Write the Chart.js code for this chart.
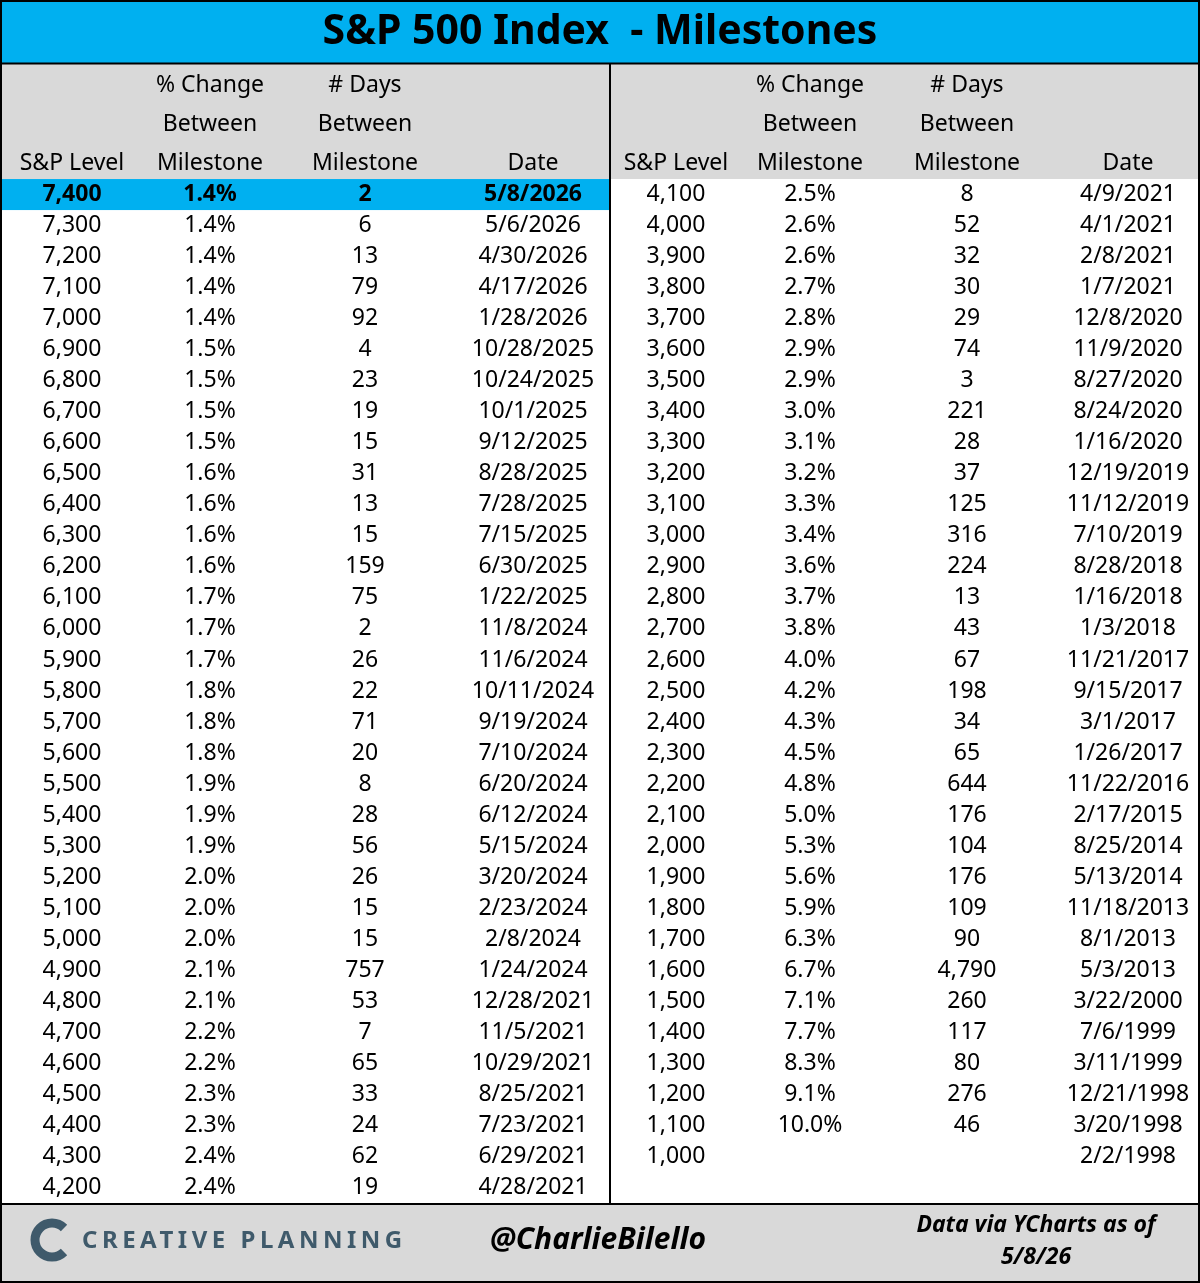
<!DOCTYPE html>
<html><head><meta charset="utf-8">
<script src="https://cdn.jsdelivr.net/npm/chart.js@4"></script>
<style>html,body{margin:0;padding:0;background:#fff}#wrap{width:1200px;height:1283px}</style>
</head><body><div id="wrap"><canvas id="c" width="1200" height="1283"></canvas></div>
<script>
var levelsL = ['7,400','7,300','7,200','7,100','7,000','6,900','6,800','6,700','6,600','6,500','6,400','6,300','6,200','6,100','6,000','5,900','5,800','5,700','5,600','5,500','5,400','5,300','5,200','5,100','5,000','4,900','4,800','4,700','4,600','4,500','4,400','4,300','4,200'];
var pctL = ['1.4%','1.4%','1.4%','1.4%','1.4%','1.5%','1.5%','1.5%','1.5%','1.6%','1.6%','1.6%','1.6%','1.7%','1.7%','1.7%','1.8%','1.8%','1.8%','1.9%','1.9%','1.9%','2.0%','2.0%','2.0%','2.1%','2.1%','2.2%','2.2%','2.3%','2.3%','2.4%','2.4%'];
var daysL = ['2','6','13','79','92','4','23','19','15','31','13','15','159','75','2','26','22','71','20','8','28','56','26','15','15','757','53','7','65','33','24','62','19'];
var datesL = ['5/8/2026','5/6/2026','4/30/2026','4/17/2026','1/28/2026','10/28/2025','10/24/2025','10/1/2025','9/12/2025','8/28/2025','7/28/2025','7/15/2025','6/30/2025','1/22/2025','11/8/2024','11/6/2024','10/11/2024','9/19/2024','7/10/2024','6/20/2024','6/12/2024','5/15/2024','3/20/2024','2/23/2024','2/8/2024','1/24/2024','12/28/2021','11/5/2021','10/29/2021','8/25/2021','7/23/2021','6/29/2021','4/28/2021'];
var levelsR = ['4,100','4,000','3,900','3,800','3,700','3,600','3,500','3,400','3,300','3,200','3,100','3,000','2,900','2,800','2,700','2,600','2,500','2,400','2,300','2,200','2,100','2,000','1,900','1,800','1,700','1,600','1,500','1,400','1,300','1,200','1,100','1,000'];
var pctR = ['2.5%','2.6%','2.6%','2.7%','2.8%','2.9%','2.9%','3.0%','3.1%','3.2%','3.3%','3.4%','3.6%','3.7%','3.8%','4.0%','4.2%','4.3%','4.5%','4.8%','5.0%','5.3%','5.6%','5.9%','6.3%','6.7%','7.1%','7.7%','8.3%','9.1%','10.0%',''];
var daysR = ['8','52','32','30','29','74','3','221','28','37','125','316','224','13','43','67','198','34','65','644','176','104','176','109','90','4,790','260','117','80','276','46',''];
var datesR = ['4/9/2021','4/1/2021','2/8/2021','1/7/2021','12/8/2020','11/9/2020','8/27/2020','8/24/2020','1/16/2020','12/19/2019','11/12/2019','7/10/2019','8/28/2018','1/16/2018','1/3/2018','11/21/2017','9/15/2017','3/1/2017','1/26/2017','11/22/2016','2/17/2015','8/25/2014','5/13/2014','11/18/2013','8/1/2013','5/3/2013','3/22/2000','7/6/1999','3/11/1999','12/21/1998','3/20/1998','2/2/1998'];
var colsL = [72, 210, 365, 533];
var colsR = [676, 810, 967, 1128];
var headers = [['S&P Level'], ['% Change','Between','Milestone'], ['# Days','Between','Milestone'], ['Date']];

var F = '"Noto Sans", "Open Sans", sans-serif';
var blue = '#00b0f0', grey = '#d9d9d9';

function pts(n, side) { var a = []; for (var i = 0; i < n; i++) a.push({ x: side, y: i }); return a; }

var tablePlugin = {
  id: 'table',
  beforeDatasetsDraw: function(chart) {
    var ctx = chart.ctx, ys = chart.scales.y;
    var rowH = ys.getPixelForValue(1) - ys.getPixelForValue(0);
    ctx.save();
    // title
    ctx.fillStyle = blue; ctx.fillRect(0, 0, 1200, 63);
    ctx.fillStyle = '#000'; ctx.font = 'bold 41px ' + F; ctx.textAlign = 'center'; ctx.textBaseline = 'middle';
    ctx.fillText('S&P 500 Index  - Milestones', 600, 32);
    // header
    ctx.fillStyle = grey; ctx.fillRect(0, 63, 1200, 116);
    // highlight row
    var y0 = ys.getPixelForValue(0);
    ctx.fillStyle = blue; ctx.fillRect(0, y0 - rowH / 2, 610, rowH);
    // footer
    ctx.fillStyle = grey; ctx.fillRect(0, 1204, 1200, 79);
    ctx.font = '23px ' + F; ctx.fillStyle = '#000';
    [colsL, colsR].forEach(function(cols) {
      headers.forEach(function(h, j) {
        for (var k = 0; k < h.length; k++) ctx.fillText(h[k], cols[j], 163 - (h.length - 1 - k) * 39);
      });
    });
    // lines
    ctx.strokeStyle = '#000'; ctx.lineWidth = 2;
    ctx.strokeRect(1, 1, 1198, 1281);
    ctx.beginPath();
    ctx.moveTo(0, 63.5); ctx.lineTo(1200, 63.5);
    ctx.moveTo(0, 1204); ctx.lineTo(1200, 1204);
    ctx.moveTo(610, 63); ctx.lineTo(610, 1204);
    ctx.stroke();
    // footer text
    ctx.fillStyle = '#3f5a6b';
    ctx.beginPath(); ctx.arc(52, 1240, 17, Math.PI * 0.25, Math.PI * 1.75); ctx.lineWidth = 9; ctx.strokeStyle = '#3f5a6b'; ctx.stroke();
    ctx.font = 'bold 24px ' + F; ctx.textAlign = 'left';
    if ('letterSpacing' in ctx) ctx.letterSpacing = '4.5px';
    ctx.fillText('CREATIVE PLANNING', 82, 1241);
    if ('letterSpacing' in ctx) ctx.letterSpacing = '0px';
    ctx.fillStyle = '#000'; ctx.textAlign = 'center';
    ctx.font = 'italic bold 30px ' + F; ctx.fillText('@CharlieBilello', 598, 1240);
    ctx.font = 'italic bold 23px ' + F;
    ctx.fillText('Data via YCharts as of', 1036, 1225); ctx.fillText('5/8/26', 1036, 1257);
    // cells
    var meta0 = chart.getDatasetMeta(0), meta1 = chart.getDatasetMeta(1);
    meta0.data.forEach(function(p, i) {
      ctx.font = (i === 0 ? 'bold ' : '') + '23px ' + F;
      [levelsL, pctL, daysL, datesL].forEach(function(arr, j) { ctx.fillText(arr[i], colsL[j], p.y); });
    });
    ctx.font = '23px ' + F;
    meta1.data.forEach(function(p, i) {
      [levelsR, pctR, daysR, datesR].forEach(function(arr, j) { ctx.fillText(arr[i], colsR[j], p.y); });
    });
    ctx.restore();
  }
};

new Chart(document.getElementById('c'), {
  type: 'scatter',
  data: { datasets: [
    { data: pts(levelsL.length, 0), pointRadius: 0 },
    { data: pts(levelsR.length, 1), pointRadius: 0 }
  ] },
  options: {
    responsive: false, animation: false, events: [],
    layout: { padding: 0 },
    plugins: { legend: { display: false }, tooltip: { enabled: false } },
    scales: {
      x: { display: false, min: -1, max: 2 },
      y: { display: false, reverse: true, min: -6.27, max: 35.08 }
    }
  },
  plugins: [tablePlugin]
});
</script></body></html>
